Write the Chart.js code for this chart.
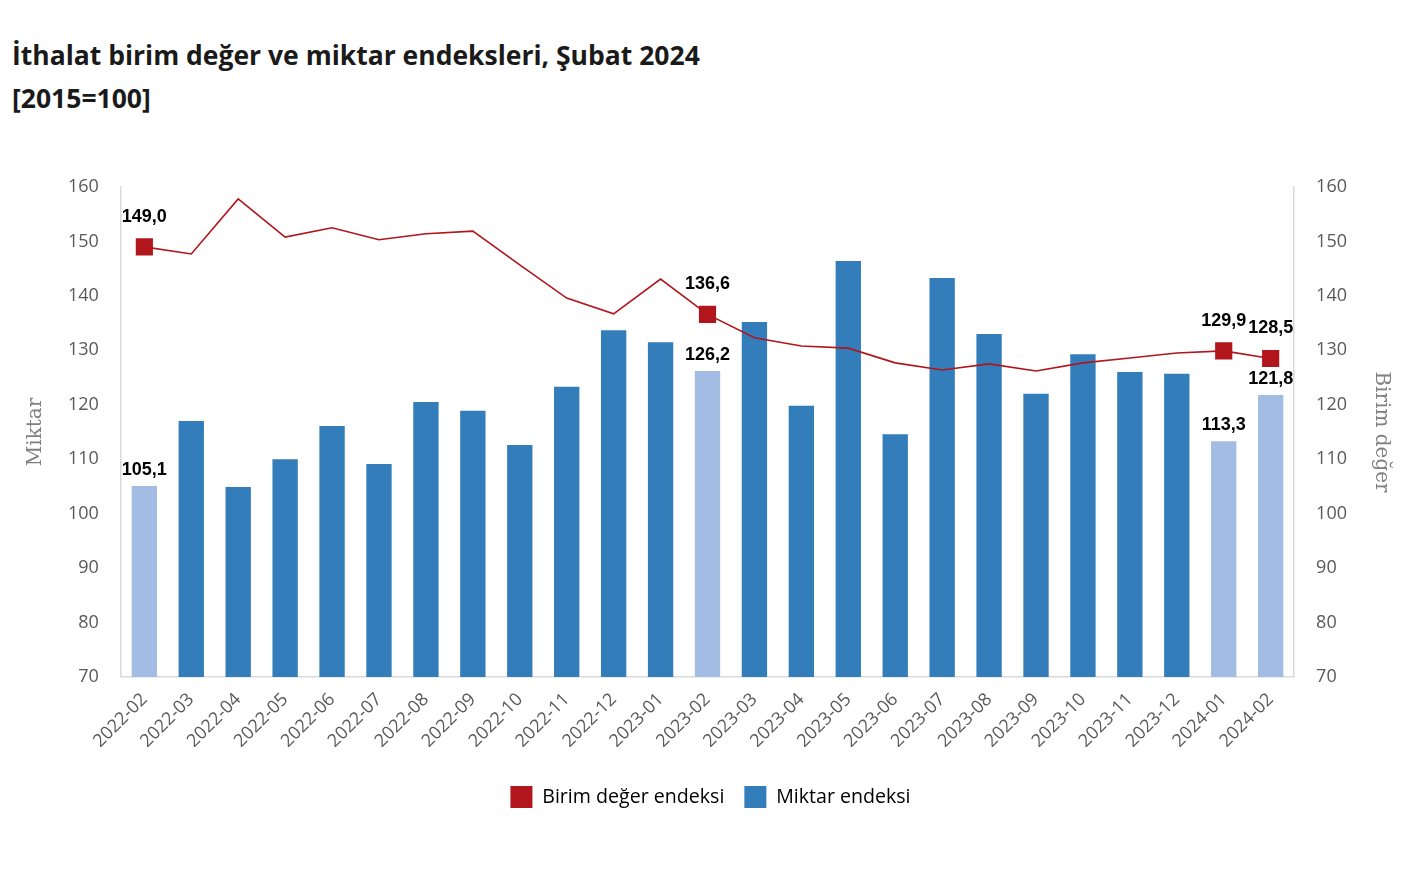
<!DOCTYPE html>
<html>
<head>
<meta charset="utf-8">
<script src="https://cdn.jsdelivr.net/npm/chart.js@4"></script>
<style>
  html, body { margin: 0; padding: 0; background: #fff; }
  #wrap { position: relative; width: 1417px; height: 892px; }
  #title { position: absolute; left: 12px; top: 34px; font-family: "Open Sans", sans-serif; font-weight: 700;
           font-size: 26.5px; line-height: 43px; color: #1a1a1a; }
  canvas { position: absolute; left: 0; top: 0; }
</style>
</head>
<body>
<div id="wrap">
  <div id="title">İthalat birim değer ve miktar endeksleri, Şubat 2024<br>[2015=100]</div>
  <canvas id="chart" width="1417" height="892"></canvas>
</div>
<script>
// Veriler
const months = ['2022-02','2022-03','2022-04','2022-05','2022-06','2022-07','2022-08','2022-09','2022-10','2022-11','2022-12',
  '2023-01','2023-02','2023-03','2023-04','2023-05','2023-06','2023-07','2023-08','2023-09','2023-10','2023-11','2023-12',
  '2024-01','2024-02'];
const unitValueIndex = [149.0,147.7,157.8,150.8,152.5,150.3,151.4,151.9,145.7,139.6,136.7,
  143.1,136.6,132.3,130.8,130.4,127.7,126.4,127.5,126.2,127.7,128.6,129.5,129.9,128.5];
const quantityIndex = [105.1,117.0,104.9,110.0,116.1,109.1,120.5,118.9,112.6,123.3,133.7,
  131.5,126.2,135.2,119.8,146.4,114.6,143.3,133.0,122.0,129.3,126.0,125.7,113.3,121.8];
const highlighted = [0, 12, 23, 24];
const yTicks = [70, 80, 90, 100, 110, 120, 130, 140, 150, 160];

const RED = '#b0161c';
const BLUE = '#337dba';
const LIGHT = '#a3bce3';

const fmt = v => v.toFixed(1).replace('.', ',');

// Etiketler (sadece işaretli aylar)
const labelPlugin = {
  id: 'valueLabels',
  afterDatasetsDraw(chart){
    const ctx = chart.ctx;
    ctx.save();
    ctx.font = 'bold 18px "Liberation Sans", Arial, sans-serif';
    ctx.fillStyle = '#000';
    ctx.textAlign = 'center';
    ctx.textBaseline = 'middle';
    const lineMeta = chart.getDatasetMeta(0);
    const barMeta = chart.getDatasetMeta(1);
    highlighted.forEach(i => {
      const p = lineMeta.data[i];
      ctx.fillText(fmt(unitValueIndex[i]), p.x, p.y - 30);
      const b = barMeta.data[i];
      ctx.fillText(fmt(quantityIndex[i]), b.x, b.y - 16);
    });
    ctx.restore();
  }
};

const ctx = document.getElementById('chart').getContext('2d');
const tickFont = { family: '"Open Sans", sans-serif', size: 18 };
const axisTitleFont = { family: '"DejaVu Serif", "Liberation Serif", serif', size: 20 };

new Chart(ctx, {
  type: 'bar',
  data: {
    labels: months,
    datasets: [{
      type: 'line',
      label: 'Birim değer endeksi',
      data: unitValueIndex,
      yAxisID: 'y1',
      borderColor: RED,
      backgroundColor: RED,
      borderWidth: 1.6,
      tension: 0,
      pointStyle: 'rect',
      pointRadius: unitValueIndex.map((v,i) => highlighted.includes(i) ? 11 : 0),
      pointBackgroundColor: RED,
      pointBorderColor: RED,
      order: 0
    },{
      type: 'bar',
      label: 'Miktar endeksi',
      data: quantityIndex,
      yAxisID: 'y',
      backgroundColor: quantityIndex.map((v,i) => highlighted.includes(i) ? LIGHT : BLUE),
      barPercentage: 0.54,
      categoryPercentage: 1,
      order: 1
    }]
  },
  options: {
    responsive: false,
    animation: false,
    layout: { padding: { top: 187, left: 24, right: 20, bottom: 74 } },
    plugins: {
      legend: {
        position: 'bottom',
        labels: {
          boxWidth: 22, boxHeight: 22, padding: 20,
          color: '#1a1a1a',
          font: { family: '"Open Sans", sans-serif', size: 19.6 },
          generateLabels(chart){
            return chart.data.datasets.map((d, i) => ({
              text: d.label, fillStyle: i === 0 ? RED : BLUE, strokeStyle: 'transparent', lineWidth: 0, datasetIndex: i
            }));
          }
        }
      },
      tooltip: { enabled: false }
    },
    scales: {
      x: {
        grid: { display: false, drawTicks: false },
        border: { color: '#d9d9d9', width: 1.5 },
        ticks: { color: '#595959', font: { family: '"Open Sans", sans-serif', size: 18 }, minRotation: 45, maxRotation: 45, padding: 12 },
        afterFit(axis){ axis.height += 2; }
      },
      y: {
        position: 'left',
        min: 70, max: 160,
        afterBuildTicks(axis){ axis.ticks = yTicks.map(v => ({ value: v })); },
        grid: { display: false, drawTicks: false },
        border: { color: '#d9d9d9', width: 1.5 },
        ticks: { color: '#595959', font: tickFont, padding: 22 },
        title: { display: true, text: 'Miktar', color: '#808080', font: axisTitleFont, padding: { top: 0, bottom: -2 } }
      },
      y1: {
        position: 'right',
        min: 70, max: 160,
        afterBuildTicks(axis){ axis.ticks = yTicks.map(v => ({ value: v })); },
        grid: { display: false, drawTicks: false },
        border: { color: '#d9d9d9', width: 1.5 },
        ticks: { color: '#595959', font: tickFont, padding: 22 },
        title: { display: true, text: 'Birim değer', color: '#808080', font: axisTitleFont, padding: { top: 4, bottom: 0 } }
      }
    }
  },
  plugins: [labelPlugin]
});
</script>
</body>
</html>
